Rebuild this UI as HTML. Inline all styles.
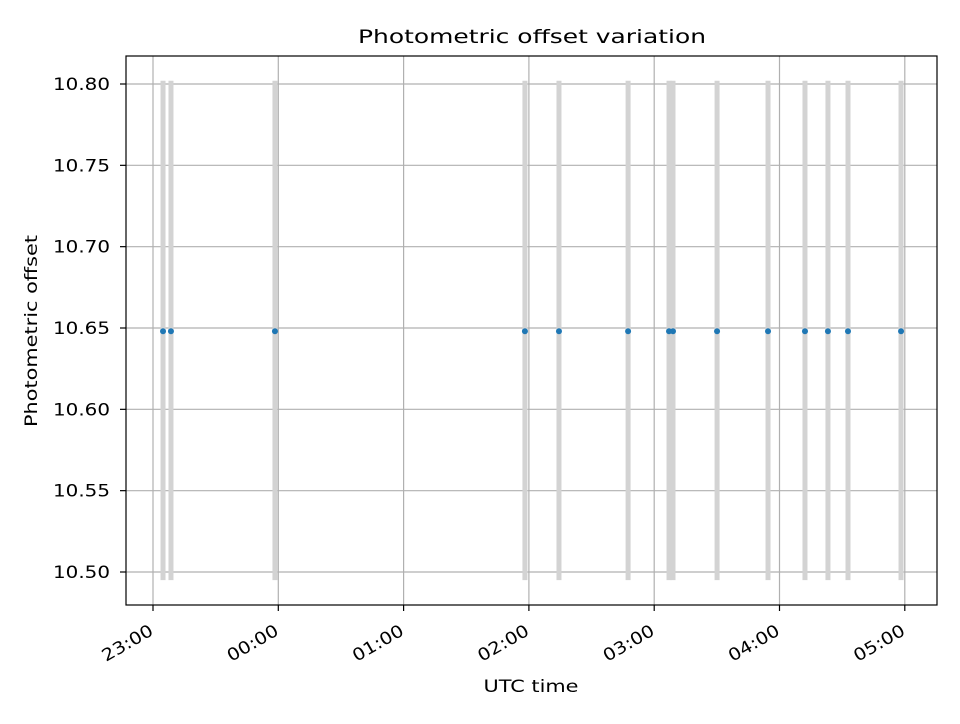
<!DOCTYPE html>
<html><head><meta charset="utf-8"><style>
body{margin:0;background:#fff;font-family:"DejaVu Sans","Liberation Sans",sans-serif}
text{font-family:"DejaVu Sans","Liberation Sans",sans-serif}
</style></head><body>
<svg id="chart" width="960" height="720" xmlns="http://www.w3.org/2000/svg">
<rect width="960" height="720" fill="#fff"/>
<g id="grid"></g><g id="errs"></g><g id="pts"></g><g id="axes"></g>
<rect x="126" y="56" width="811" height="549" fill="none" stroke="#000" stroke-width="1.2"/>
<text x="532" y="43" text-anchor="middle" font-size="19" textLength="348" lengthAdjust="spacingAndGlyphs">Photometric offset variation</text>
<text x="531" y="692" text-anchor="middle" font-size="17" textLength="95" lengthAdjust="spacingAndGlyphs">UTC time</text>
<text transform="translate(37,331) rotate(-90)" text-anchor="middle" font-size="17" textLength="192" lengthAdjust="spacingAndGlyphs">Photometric offset</text>
</svg>
<script>
// minutes after 23:00
const times=[4.8,8.6,58.4,178.1,194.4,227.5,247.1,249.0,270.1,294.5,312.2,323.2,332.8,358.2];
const offsets=[10.648,10.648,10.648,10.648,10.648,10.648,10.648,10.648,10.648,10.648,10.648,10.648,10.648,10.648];
const errLow=[10.495,10.495,10.495,10.495,10.495,10.495,10.495,10.495,10.495,10.495,10.495,10.495,10.495,10.495];
const errHigh=[10.802,10.802,10.802,10.802,10.802,10.802,10.802,10.802,10.802,10.802,10.802,10.802,10.802,10.802];
const xTicks=[0,60,120,180,240,300,360];
const xTickLabels=["23:00","00:00","01:00","02:00","03:00","04:00","05:00"];
const yTicks=[10.50,10.55,10.60,10.65,10.70,10.75,10.80];
const NS="http://www.w3.org/2000/svg";
const X=m=>153+(m)*(125.3/60);
const Y=v=>572-(v-10.50)*(488/0.30);
function mk(tag,attrs,parent,txt){const e=document.createElementNS(NS,tag);for(const k in attrs)e.setAttribute(k,attrs[k]);if(txt!==undefined)e.textContent=txt;document.getElementById(parent).appendChild(e);return e;}
xTicks.forEach((t,i)=>{const x=X(t);
 const g=mk('line',{x1:x,x2:x,y1:56,y2:605,stroke:'#b0b0b0','stroke-width':1.2},'grid');
 
 
 const tk=mk('line',{x1:x,x2:x,y1:605,y2:611,stroke:'#000','stroke-width':1.2},'axes');
 
 
 const lx=x+1.5, ly=634;
 const lb=mk('text',{x:lx,y:ly,'text-anchor':'end','font-size':17,textLength:56,lengthAdjust:'spacingAndGlyphs',transform:`rotate(-30 ${lx} ${ly})`},'axes',xTickLabels[i]);
 
 
});
yTicks.forEach(v=>{const y=Y(v);
 const g=mk('line',{x1:126,x2:937,y1:y,y2:y,stroke:'#b0b0b0','stroke-width':1.2},'grid');
 
 
 const tk=mk('line',{x1:120,x2:126,y1:y,y2:y,stroke:'#000','stroke-width':1.2},'axes');
 
 
 const lb=mk('text',{x:110,y:y+6,'text-anchor':'end','font-size':17,textLength:57,lengthAdjust:'spacingAndGlyphs'},'axes',v.toFixed(2));
 
 
});
times.forEach((t,i)=>{const x=X(t);
 const e=mk('line',{x1:x,x2:x,y1:Y(errLow[i]),y2:Y(errHigh[i]),stroke:'#d3d3d3','stroke-width':5},'errs');
 
 
 const p=mk('circle',{cx:x,cy:Y(offsets[i]),r:3,fill:'#1f77b4'},'pts');
 
 
});
</script>
</body></html>
